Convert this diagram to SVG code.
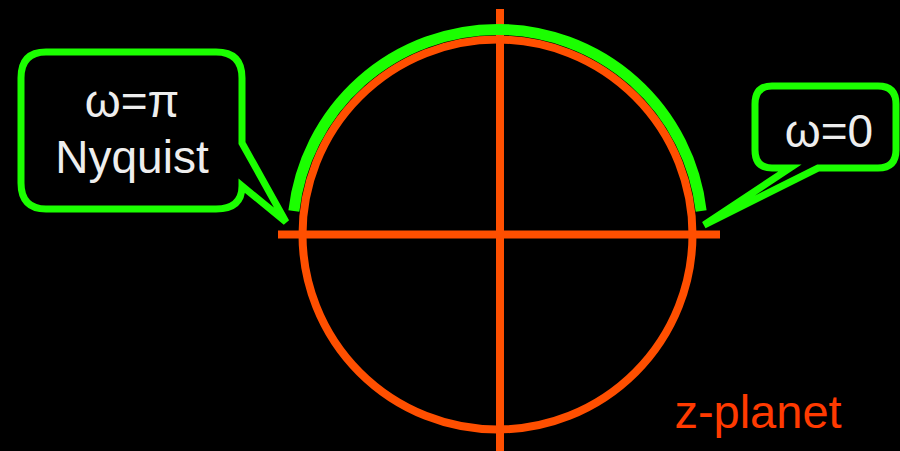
<svg xmlns="http://www.w3.org/2000/svg" width="900" height="451" viewBox="0 0 900 451">
<style>
.ax{stroke:#ff4f00;stroke-width:8;fill:none}
.bub{fill:#000;stroke:#1bff00;stroke-width:7;stroke-linejoin:miter}
.lbl{font-family:"Liberation Sans",Arial,sans-serif;font-size:46px;fill:#eeeeee;text-anchor:middle}
</style>
<rect width="900" height="451" fill="#000"/>
<g id="connectors">
<line class="ax" x1="500" y1="9" x2="500" y2="451"/>
<line class="ax" x1="278" y1="234.5" x2="720" y2="234.5"/>
</g>
<g id="unit-circle">
<circle class="ax" cx="497.5" cy="234.5" r="195"/>
</g>
<g id="arc">
<path d="M293.85,211 A205,205 0 0 1 701.15,211" fill="none" stroke="#1bff00" stroke-width="11"/>
</g>
<g id="nyquist">
<path class="bub" d="M46,52 H216 Q242,52 242,78 V143 L286,222 L242,186 Q242,209 216,209 H46 Q21,209 21,183 V78 Q21,52 46,52 Z"/>
<text class="lbl" x="132" y="117">ω=π</text>
<text class="lbl" x="132" y="173">Nyquist</text>
</g>
<g id="dc">
<path class="bub" d="M772,86 H878 Q896,86 896,104 V150 Q896,168 878,168 H818 L704,225 L790,168 H772 Q755,168 755,150 V104 Q755,86 772,86 Z"/>
<text class="lbl" x="829" y="147">ω=0</text>
</g>
<g id="zplanet">
<text x="758" y="428" font-family="Liberation Sans,Arial,sans-serif" font-size="47" fill="#ff3a00" text-anchor="middle">z-planet</text>
</g>
</svg>
